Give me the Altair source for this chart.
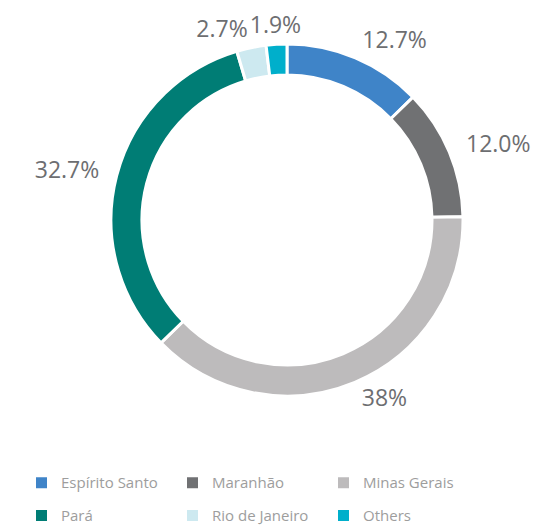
import altair as alt
import pandas as pd

regions = ["Espírito Santo", "Maranhão", "Minas Gerais", "Pará", "Rio de Janeiro", "Others"]
shares = [12.7, 12.0, 38.0, 32.7, 2.7, 1.9]
labels = ["12.7%", "12.0%", "38%", "32.7%", "2.7%", "1.9%"]
colors = ["#3f84c8", "#707173", "#bdbbbc", "#007d75", "#cde9f0", "#00afcb"]

df = pd.DataFrame({
    "region": regions,
    "share": shares,
    "label": labels,
    "idx": list(range(len(regions))),
})

theta_scale = alt.Scale(domain=[0, 100])

ring = alt.Chart(df).mark_arc(innerRadius=145, outerRadius=176, stroke="white", strokeWidth=3).encode(
    theta=alt.Theta("share:Q", stack=True, scale=theta_scale),
    order=alt.Order("idx:Q"),
    color=alt.Color(
        "region:N",
        scale=alt.Scale(domain=regions, range=colors),
        sort=regions,
        legend=alt.Legend(
            title=None,
            orient="none",
            legendX=-53,
            legendY=455,
            direction="horizontal",
            columns=3,
            columnPadding=27,
            rowPadding=17,
            symbolType="square",
            symbolSize=121,
            symbolStrokeWidth=0,
            labelFont="Open Sans",
            labelFontSize=15,
            labelColor="#9d9d9d",
            labelOffset=12,
            labelLimit=200,
        ),
    ),
)

label_base = (
    alt.Chart(df)
    .transform_window(cum="sum(share)", sort=[alt.SortField("idx")], frame=[None, 0])
    .transform_calculate(mid="datum.cum - datum.share / 2")
    .transform_calculate(s="sin(2 * PI * datum.mid / 100)")
    .encode(
        theta=alt.Theta("mid:Q", scale=theta_scale),
        text="label:N",
    )
)

text_style = dict(radius=194, fontSize=23, font="Open Sans", color="#6d6e71", baseline="middle")

right_labels = label_base.transform_filter("datum.s >= 0.1").mark_text(align="left", **text_style)
left_labels = label_base.transform_filter("datum.s <= -0.1").mark_text(align="right", **text_style)
top_labels = label_base.transform_filter("abs(datum.s) < 0.1").mark_text(align="center", **text_style)

chart = (
    alt.layer(ring, right_labels, left_labels, top_labels)
    .properties(
        width=400,
        height=400,
        autosize=alt.AutoSizeParams(type="none"),
        padding={"left": 79, "top": 12, "right": 47, "bottom": 105},
    )
    .configure_view(stroke=None)
)

chart.save("out.html", embed_options={"renderer": "svg", "actions": False})
